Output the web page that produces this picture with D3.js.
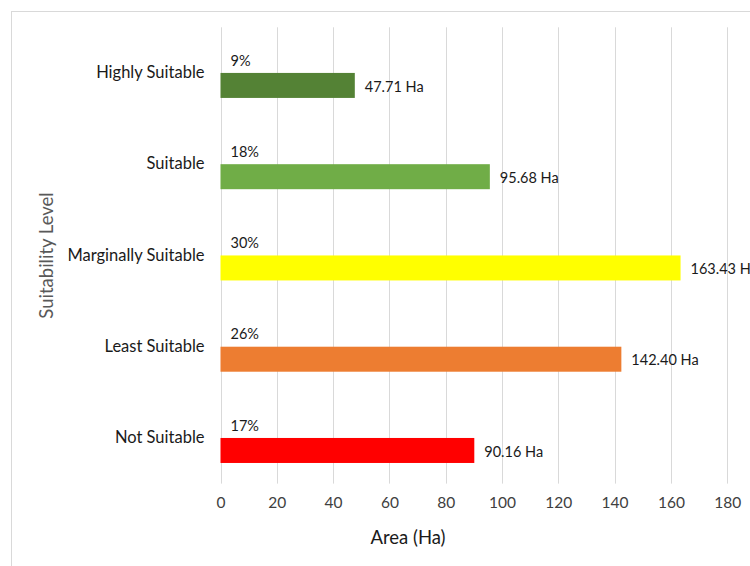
<!DOCTYPE html>
<html>
<head>
<meta charset="utf-8">
<script src="https://cdn.jsdelivr.net/npm/d3@7"></script>
<style>
  html, body { margin: 0; padding: 0; background: #fff; }
  svg { display: block; font-family: Lato, "Open Sans", sans-serif; }
</style>
</head>
<body>
<svg id="chart" width="750" height="566"></svg>
<script>
// Land suitability classes, top to bottom
const categories = ["Highly Suitable", "Suitable", "Marginally Suitable", "Least Suitable", "Not Suitable"];
const areaHa = [47.71, 95.68, 163.43, 142.40, 90.16];
const sharePct = [9, 18, 30, 26, 17];
const barColors = ["#548235", "#70AD47", "#FFFF00", "#ED7D31", "#FF0000"];
const gridTicks = [0, 20, 40, 60, 80, 100, 120, 140, 160, 180, 200];
const tickLabels = [0, 20, 40, 60, 80, 100, 120, 140, 160, 180];
const xTitle = "Area (Ha)";
const yTitle = "Suitability Level";

const svg = d3.select("#chart");
const FONT = "Lato, 'Open Sans', sans-serif";

// chart frame
svg.append("rect")
  .attr("x", 11.5).attr("y", 11.5)
  .attr("width", 800).attr("height", 600)
  .attr("fill", "#fff").attr("stroke", "#d9d9d9").attr("stroke-width", 1);

const plot = { left: 220.5, right: 783.5, top: 27.3, bottom: 483.6 };

const x = d3.scaleLinear().domain([0, 200]).range([plot.left, plot.right]);
const y = d3.scaleBand().domain(categories).range([plot.top, plot.bottom]).paddingInner(0).paddingOuter(0);
// each category holds a share slot (upper) and an area slot (lower)
const slot = d3.scaleBand().domain(["share", "area"]).range([-25, 25]);

// vertical gridlines
svg.append("g")
  .selectAll("line")
  .data(gridTicks)
  .join("line")
  .attr("x1", d => Math.round(x(d)) + 0.5)
  .attr("x2", d => Math.round(x(d)) + 0.5)
  .attr("y1", plot.top)
  .attr("y2", plot.bottom)
  .attr("stroke", "#d9d9d9")
  .attr("stroke-width", 1);

// x tick labels
const xAxis = d3.axisBottom(x).tickValues(tickLabels).tickSize(0).tickPadding(0);
const xg = svg.append("g")
  .attr("transform", `translate(0, ${plot.bottom + 13})`)
  .call(xAxis);
xg.select(".domain").remove();
xg.selectAll("text")
  .attr("font-size", "15.5px")
  .attr("fill", "#404040")
  .attr("font-family", FONT);

// category labels
const yAxis = d3.axisLeft(y).tickSize(0).tickPadding(0);
const yg = svg.append("g")
  .attr("transform", `translate(${plot.left - 16}, 0)`)
  .call(yAxis);
yg.select(".domain").remove();
yg.selectAll("text")
  .attr("font-size", "16.5px")
  .attr("fill", "#1a1a1a")
  .attr("font-family", FONT);

const rows = categories.map((c, i) => ({ cat: c, area: areaHa[i], pct: sharePct[i], color: barColors[i] }));
const bandMid = c => y(c) + y.bandwidth() / 2;

// area bars
svg.append("g")
  .selectAll("rect")
  .data(rows)
  .join("rect")
  .attr("x", x(0))
  .attr("y", d => bandMid(d.cat) + slot("area"))
  .attr("width", d => x(d.area) - x(0))
  .attr("height", slot.bandwidth())
  .attr("fill", d => d.color);

// area value labels
svg.append("g")
  .selectAll("text")
  .data(rows)
  .join("text")
  .attr("x", d => x(d.area) + 10)
  .attr("y", d => bandMid(d.cat) + slot("area") + slot.bandwidth() / 2 + 1)
  .attr("dy", "0.35em")
  .attr("font-size", "14.5px")
  .attr("fill", "#1a1a1a")
  .text(d => d.area.toFixed(2) + " Ha");

// share labels
svg.append("g")
  .selectAll("text")
  .data(rows)
  .join("text")
  .attr("x", x(0) + 10)
  .attr("y", d => bandMid(d.cat) + slot("share") + slot.bandwidth() / 2)
  .attr("dy", "0.35em")
  .attr("font-size", "14.5px")
  .attr("fill", "#1a1a1a")
  .text(d => d.pct + "%");

// axis titles
svg.append("text")
  .attr("x", 408).attr("y", 538)
  .attr("dy", "0.35em")
  .attr("text-anchor", "middle")
  .attr("font-size", "18.5px")
  .attr("fill", "#1a1a1a")
  .text(xTitle);

svg.append("text")
  .attr("transform", "translate(47, 255.5) rotate(-90)")
  .attr("dy", "0.35em")
  .attr("text-anchor", "middle")
  .attr("font-size", "18.5px")
  .attr("fill", "#595959")
  .text(yTitle);
</script>
</body>
</html>
